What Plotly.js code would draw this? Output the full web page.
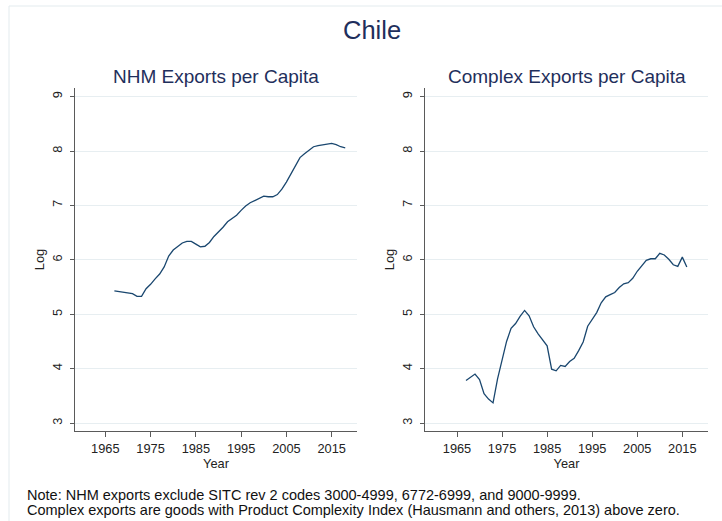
<!DOCTYPE html>
<html>
<head>
<meta charset="utf-8">
<script src="https://cdn.plot.ly/plotly-3.0.1.min.js"></script>
<style>html,body{margin:0;padding:0;background:#fff;}#chart{width:722px;height:521px;}</style>
</head>
<body>
<div id="chart"></div>
<script>
// ---- data ----
const yearsNHM = [1967,1968,1969,1970,1971,1972,1973,1974,1975,1976,1977,1978,1979,1980,1981,1982,1983,1984,1985,1986,1987,1988,1989,1990,1991,1992,1993,1994,1995,1996,1997,1998,1999,2000,2001,2002,2003,2004,2005,2006,2007,2008,2009,2010,2011,2012,2013,2014,2015,2016,2017,2018];
const logNHM = [5.43,5.42,5.41,5.39,5.38,5.33,5.33,5.47,5.55,5.65,5.74,5.87,6.07,6.18,6.25,6.31,6.34,6.34,6.29,6.24,6.25,6.32,6.43,6.51,6.60,6.70,6.76,6.82,6.91,6.99,7.05,7.09,7.13,7.17,7.16,7.16,7.20,7.30,7.43,7.58,7.74,7.88,7.95,8.02,8.08,8.10,8.11,8.13,8.14,8.12,8.08,8.06];

const yearsComplex = [1967,1968,1969,1970,1971,1972,1973,1974,1975,1976,1977,1978,1979,1980,1981,1982,1983,1984,1985,1986,1987,1988,1989,1990,1991,1992,1993,1994,1995,1996,1997,1998,1999,2000,2001,2002,2003,2004,2005,2006,2007,2008,2009,2010,2011,2012,2013,2014,2015,2016];
const logComplex = [3.78,3.84,3.90,3.80,3.54,3.44,3.37,3.81,4.13,4.50,4.74,4.83,4.96,5.07,4.97,4.77,4.64,4.53,4.42,3.99,3.96,4.06,4.04,4.13,4.19,4.33,4.49,4.78,4.91,5.03,5.21,5.32,5.36,5.40,5.49,5.56,5.58,5.66,5.79,5.90,5.99,6.02,6.02,6.12,6.09,6.01,5.91,5.88,6.05,5.87];

const xTicks = [1965,1975,1985,1995,2005,2015];
const yTicks = [3,4,5,6,7,8,9];

const mainTitle = "Chile";
const panelTitles = ["NHM Exports per Capita","Complex Exports per Capita"];
const xTitle = "Year";
const yTitle = "Log";
const noteLines = [
  "Note: NHM exports exclude SITC rev 2 codes 3000-4999, 6772-6999, and 9000-9999.",
  "Complex exports are goods with Product Complexity Index (Hausmann and others, 2013) above zero."
];

// ---- layout helpers ----
const W = 722, H = 521;
const px = v => v / W;
const py = v => 1 - v / H;
const FONT = "Liberation Sans, Arial, sans-serif";
const NAVY = "#1f2f5c";
const LINE = "#1a476f";
const GRID = "#e7eef1";
const AXIS = "#5a5a5a";

const traces = [
  {x: yearsNHM, y: logNHM, type: "scatter", mode: "lines", xaxis: "x", yaxis: "y",
   line: {color: LINE, width: 1.3}, hoverinfo: "x+y", showlegend: false},
  {x: yearsComplex, y: logComplex, type: "scatter", mode: "lines", xaxis: "x2", yaxis: "y2",
   line: {color: LINE, width: 1.3}, hoverinfo: "x+y", showlegend: false}
];

function xAxis(domain, range, anchor) {
  return {
    domain: domain, range: range, anchor: anchor,
    tickmode: "array", tickvals: xTicks, ticktext: xTicks.map(String),
    ticks: "outside", ticklen: 5, tickwidth: 1, tickcolor: AXIS,
    showline: true, linecolor: AXIS, linewidth: 1.3,
    showgrid: false, zeroline: false,
    tickfont: {family: FONT, size: 12.8, color: "#222"},
    title: {text: xTitle, font: {family: FONT, size: 12.8, color: "#222"}, standoff: 2},
    fixedrange: true
  };
}
function yAxis(domain, range, anchor) {
  return {
    domain: domain, range: range, anchor: anchor,
    tickmode: "array", tickvals: yTicks, ticktext: yTicks.map(String),
    tickangle: -90, ticklabelstandoff: 3,
    ticks: "outside", ticklen: 4, tickwidth: 1, tickcolor: AXIS,
    showline: true, linecolor: AXIS, linewidth: 1.3,
    showgrid: true, gridcolor: GRID, gridwidth: 1, zeroline: false,
    tickfont: {family: FONT, size: 12.8, color: "#222"},
    title: {text: yTitle, font: {family: FONT, size: 12.8, color: "#222"}, standoff: 2},
    fixedrange: true
  };
}

const yDom = [py(431), py(88)];
const yRange = [2.853, 9.16];

const layout = {
  width: W, height: H,
  margin: {l: 0, r: 0, t: 0, b: 0},
  paper_bgcolor: "#ffffff", plot_bgcolor: "#ffffff",
  font: {family: FONT},
  showlegend: false,
  xaxis: xAxis([px(75), px(357)], [1958.3, 2020.6], "y"),
  yaxis: yAxis(yDom, yRange, "x"),
  xaxis2: xAxis([px(425), px(708)], [1957.9, 2020.7], "y2"),
  yaxis2: yAxis(yDom, yRange, "x2"),
  shapes: [
    {type: "rect", xref: "paper", yref: "paper",
     x0: px(9), x1: 1.05, y0: -0.05, y1: py(6),
     line: {color: "#e3ebee", width: 1}, fillcolor: "rgba(0,0,0,0)", layer: "below"}
  ],
  annotations: [
    {text: mainTitle, xref: "paper", yref: "paper", x: px(371.5), y: py(30),
     xanchor: "center", yanchor: "middle", showarrow: false,
     font: {family: FONT, size: 25.5, color: NAVY}},
    {text: panelTitles[0], xref: "paper", yref: "paper", x: px(216), y: py(76),
     xanchor: "center", yanchor: "middle", showarrow: false,
     font: {family: FONT, size: 19, color: NAVY}},
    {text: panelTitles[1], xref: "paper", yref: "paper", x: px(566.5), y: py(76),
     xanchor: "center", yanchor: "middle", showarrow: false,
     font: {family: FONT, size: 19, color: NAVY}},
    {text: noteLines[0], xref: "paper", yref: "paper", x: px(25), y: py(495),
     xanchor: "left", yanchor: "middle", showarrow: false,
     font: {family: FONT, size: 14.5, color: "#111"}},
    {text: noteLines[1], xref: "paper", yref: "paper", x: px(25), y: py(509.5),
     xanchor: "left", yanchor: "middle", showarrow: false,
     font: {family: FONT, size: 14.5, color: "#111"}}
  ]
};

Plotly.newPlot("chart", traces, layout, {displayModeBar: false, staticPlot: true});
</script>
</body>
</html>
